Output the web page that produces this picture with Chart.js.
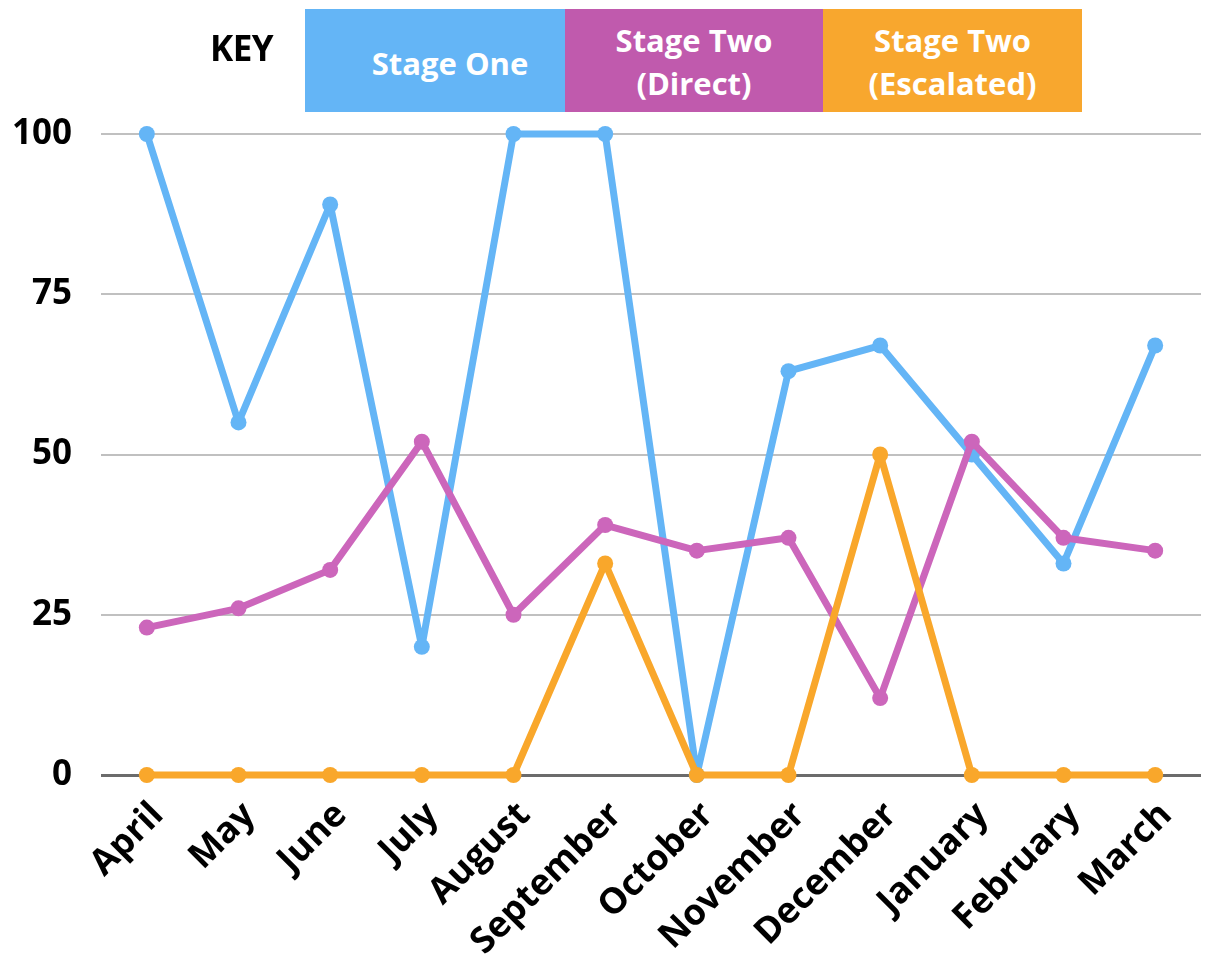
<!DOCTYPE html>
<html>
<head>
<meta charset="utf-8">
<script src="https://cdn.jsdelivr.net/npm/chart.js@4.4.1/dist/chart.umd.min.js"></script>
<style>
  html, body { margin: 0; padding: 0; background: #ffffff; }
  #wrap { position: relative; width: 1209px; height: 966px; font-family: "Open Sans", sans-serif; }
  #chart { position: absolute; left: 0; top: 0; }
  .key-title { position: absolute; left: 210px; top: 24px; font-size: 35px; font-weight: 700; color: #000; letter-spacing: -0.5px; }
  .key-box { position: absolute; top: 9px; height: 103px; color: #fff; font-weight: 700; font-size: 31px;
             line-height: 43px; display: flex; align-items: center; justify-content: center; text-align: center; }
</style>
</head>
<body>
<div id="wrap">
  <canvas id="chart" width="1209" height="966"></canvas>
  <div class="key-title">KEY</div>
  <div class="key-box" style="left:305px;width:260px;background:#64b5f6;padding-left:30px;box-sizing:border-box;padding-top:5px;">Stage One</div>
  <div class="key-box" style="left:565px;width:258px;background:#c05aad;padding-top:2px;box-sizing:border-box;">Stage Two<br>(Direct)</div>
  <div class="key-box" style="left:823px;width:259px;background:#f8a72e;padding-top:2px;box-sizing:border-box;">Stage Two<br>(Escalated)</div>
</div>
<script>
// Months of the reporting year
const months = ["April", "May", "June", "July", "August", "September",
                "October", "November", "December", "January", "February", "March"];

// Percentages per stage
const stageOne = [100, 55, 89, 20, 100, 100, 0, 63, 67, 50, 33, 67];
const stageTwoDirect = [23, 26, 32, 52, 25, 39, 35, 37, 12, 52, 37, 35];
const stageTwoEscalated = [0, 0, 0, 0, 0, 33, 0, 0, 50, 0, 0, 0];

// Y-axis tick values
const yTicks = [0, 25, 50, 75, 100];

function series(label, data, color, order) {
  return {
    label, data, order,
    borderColor: color,
    backgroundColor: color,
    borderWidth: 7,
    borderJoinStyle: 'round',
    borderCapStyle: 'round',
    pointRadius: 8,
    pointHoverRadius: 8,
    pointBorderWidth: 0,
    pointBackgroundColor: color,
    tension: 0,
    clip: false
  };
}

new Chart(document.getElementById('chart'), {
  type: 'line',
  data: {
    labels: months,
    datasets: [
      series('Stage One', stageOne, '#64b5f6', 3),
      series('Stage Two (Direct)', stageTwoDirect, '#cc66bb', 2),
      series('Stage Two (Escalated)', stageTwoEscalated, '#f9a72b', 1)
    ]
  },
  options: {
    responsive: false,
    animation: false,
    events: [],
    layout: { padding: { top: 134, right: 1, left: 0, bottom: 0 } },
    plugins: { legend: { display: false }, tooltip: { enabled: false } },
    scales: {
      x: {
        offset: true,
        grid: { display: false, drawTicks: false },
        border: { display: false },
        ticks: {
          color: '#000',
          font: { family: "'Open Sans', sans-serif", size: 36, weight: 'bold' },
          minRotation: 45,
          maxRotation: 45,
          autoSkip: false,
          padding: 19,
          labelOffset: 11
        },
        afterFit(scale) { scale.height = 191; }
      },
      y: {
        min: 0,
        max: 100,
        afterBuildTicks(scale) { scale.ticks = yTicks.map(v => ({ value: v })); },
        grid: {
          drawTicks: false,
          color: ctx => (ctx.tick && ctx.tick.value === 0) ? '#6b6b6b' : '#c0c0c0',
          lineWidth: ctx => (ctx.tick && ctx.tick.value === 0) ? 3 : 2
        },
        border: { display: false },
        ticks: {
          color: '#000',
          font: { family: "'Open Sans', sans-serif", size: 35, weight: 'bold' },
          padding: 29
        },
        afterFit(scale) { scale.width = 101; }
      }
    }
  }
});
</script>
</body>
</html>
